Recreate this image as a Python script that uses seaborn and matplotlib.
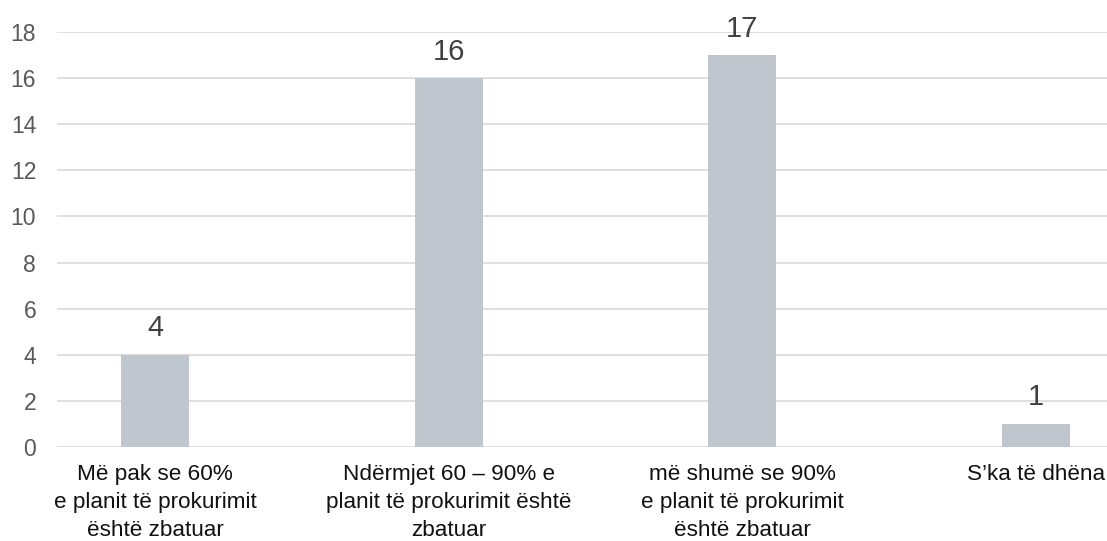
import matplotlib
matplotlib.use("Agg")
import matplotlib.pyplot as plt
import seaborn as sns
import pandas as pd

categories = [
    "Më pak se 60%\ne planit të prokurimit\nështë zbatuar",
    "Ndërmjet 60 – 90% e\nplanit të prokurimit është\nzbatuar",
    "më shumë se 90%\ne planit të prokurimit\nështë zbatuar",
    "S’ka të dhëna",
]
values = [4, 16, 17, 1]
yticks = [0, 2, 4, 6, 8, 10, 12, 14, 16, 18]

sns.set_theme(style="white")
plt.rcParams["font.family"] = ["Liberation Sans", "DejaVu Sans"]

df = pd.DataFrame({"cat": categories, "val": values})

fig = plt.figure(figsize=(11.07, 5.41), dpi=100)
ax = fig.add_axes([0.0515, 0.1738, 0.9485, 0.7671])

sns.barplot(data=df, x="cat", y="val", color="#BFC6CD", saturation=1,
            width=0.232, linewidth=0, edgecolor="none", ax=ax, zorder=3)

ax.set_ylim(0, 18)
ax.set_xlim(-0.334, 3.242)
ax.set_yticks(yticks)
ax.yaxis.grid(True, color="#D9D9D9", linewidth=1.2, zorder=0)
ax.xaxis.grid(False)
for s in ax.spines.values():
    s.set_visible(False)
ax.set_xlabel("")
ax.set_ylabel("")
ax.tick_params(axis="y", length=0, pad=15, labelsize=16.5, labelcolor="#595959")
ax.tick_params(axis="x", length=0, pad=12, labelsize=16.2, labelcolor="#111111")
for lab in ax.get_xticklabels():
    lab.set_linespacing(1.45)
    lab.set_verticalalignment("top")

for c in ax.containers:
    ax.bar_label(c, labels=[str(v) for v in values], padding=9,
                 fontsize=21, color="#404040", clip_on=False)

fig.savefig("out.png", dpi=100)
